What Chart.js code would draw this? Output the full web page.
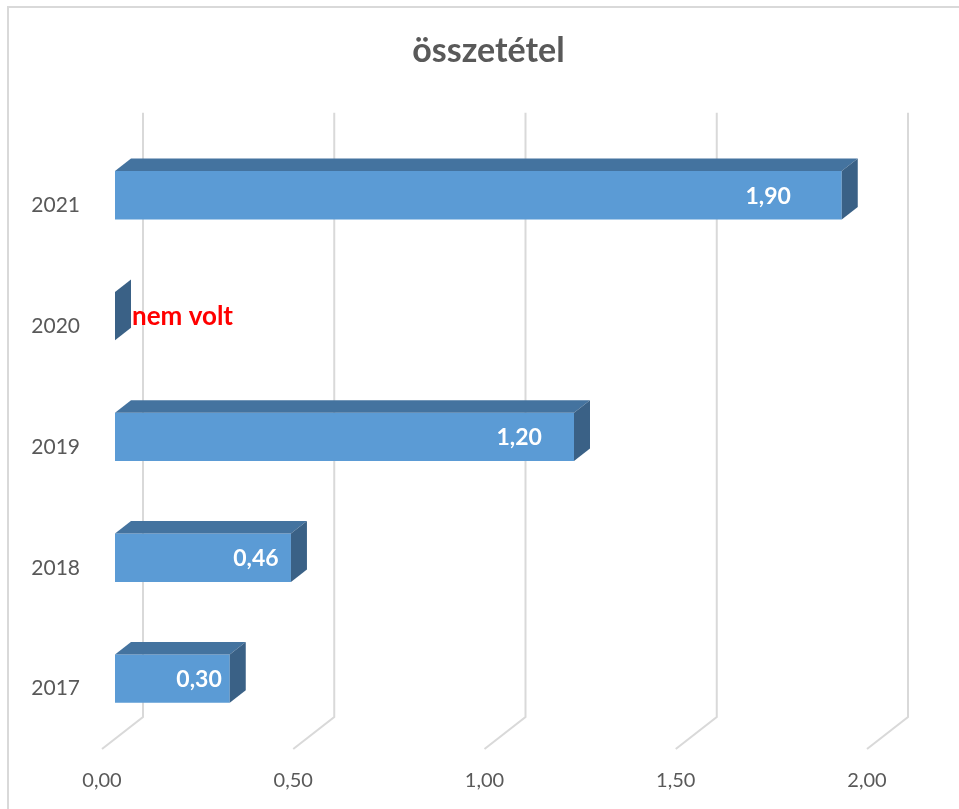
<!DOCTYPE html>
<html lang="hu">
<head>
  <meta charset="UTF-8" />
  <title>összetétel</title>
  <script src="https://cdn.jsdelivr.net/npm/chart.js"></script>
  <style>
    body {
      margin: 0;
      background: #ffffff;
    }
    canvas {
      display: block;
    }
  </style>
</head>
<body>
  <canvas id="chart" width="959" height="809"></canvas>

  <script>
    // adatok (alulról felfelé: 2017 -> 2021)
    const years = ['2017', '2018', '2019', '2020', '2021'];
    const values = [0.30, 0.46, 1.20, 0, 1.90];
    const notes = [null, null, null, 'nem volt', null];
    const xTicks = [0, 0.5, 1, 1.5, 2];

    const fmt = v => v.toFixed(2).replace('.', ',');

    // 3D eltolások
    const DEPTH_DX = 16, DEPTH_DY = -12.5;   // oszlop mélysége
    const BACK_DX = 28, BACK_DY = -22;       // hátsó fal
    const FLOOR_DX = -13, FLOOR_DY = 10;     // padló eleje

    const frame = {
      id: 'frame',
      beforeDraw(chart) {
        const ctx = chart.ctx;
        ctx.save();
        ctx.fillStyle = '#ffffff';
        ctx.fillRect(0, 0, chart.width, chart.height);
        ctx.strokeStyle = '#D9D9D9';
        ctx.lineWidth = 2;
        ctx.beginPath();
        ctx.moveTo(8, chart.height);
        ctx.lineTo(8, 7);
        ctx.lineTo(chart.width, 7);
        ctx.stroke();
        ctx.restore();
      }
    };

    // rácsvonalak a hátsó falon + a padlón
    const grid3d = {
      id: 'grid3d',
      beforeDatasetsDraw(chart) {
        const ctx = chart.ctx, xs = chart.scales.x, area = chart.chartArea;
        ctx.save();
        ctx.strokeStyle = '#D9D9D9';
        ctx.lineWidth = 2;
        xs.ticks.forEach(t => {
          const px = xs.getPixelForValue(t.value);
          ctx.beginPath();
          ctx.moveTo(px + BACK_DX, area.top + BACK_DY);
          ctx.lineTo(px + BACK_DX, area.bottom + BACK_DY);
          ctx.lineTo(px + FLOOR_DX, area.bottom + FLOOR_DY);
          ctx.stroke();
        });
        ctx.restore();
      }
    };

    // oszlopok teteje, oldala és feliratok
    const bars3d = {
      id: 'bars3d',
      afterDatasetsDraw(chart) {
        const ctx = chart.ctx;
        const meta = chart.getDatasetMeta(0);
        ctx.save();
        meta.data.forEach((el, i) => {
          const p = el.getProps(['x', 'y', 'base', 'height'], true);
          const top = p.y - p.height / 2, bottom = p.y + p.height / 2;

          if (p.x > p.base) {
            ctx.fillStyle = '#44739F';
            ctx.beginPath();
            ctx.moveTo(p.base, top);
            ctx.lineTo(p.base + DEPTH_DX, top + DEPTH_DY);
            ctx.lineTo(p.x + DEPTH_DX, top + DEPTH_DY);
            ctx.lineTo(p.x, top);
            ctx.closePath();
            ctx.fill();
          }
          ctx.fillStyle = '#3A6186';
          ctx.beginPath();
          ctx.moveTo(p.x, top);
          ctx.lineTo(p.x + DEPTH_DX, top + DEPTH_DY);
          ctx.lineTo(p.x + DEPTH_DX, bottom + DEPTH_DY);
          ctx.lineTo(p.x, bottom);
          ctx.closePath();
          ctx.fill();

          ctx.textBaseline = 'middle';
          if (notes[i]) {
            ctx.fillStyle = '#FF0000';
            ctx.font = 'bold 26px Lato';
            ctx.textAlign = 'left';
            ctx.fillText(notes[i], p.x + DEPTH_DX + 1, p.y + 1);
          } else {
            ctx.fillStyle = '#FFFFFF';
            ctx.font = 'bold 23px Lato';
            ctx.textAlign = 'right';
            ctx.fillText(fmt(values[i]), p.x - 0.07 * (p.x - p.base), p.y + 1);
          }
        });
        ctx.restore();
      }
    };

    new Chart(document.getElementById('chart'), {
      type: 'bar',
      data: {
        labels: years,
        datasets: [{
          data: values,
          backgroundColor: '#5B9BD5',
          borderWidth: 0,
          barPercentage: 0.8,
          categoryPercentage: 0.5
        }]
      },
      options: {
        indexAxis: 'y',
        responsive: false,
        animation: false,
        layout: { padding: { top: 0, right: 0, bottom: 0, left: 18 } },
        scales: {
          x: {
            min: 0,
            max: 2,
            afterBuildTicks: s => { s.ticks = xTicks.map(v => ({ value: v })); },
            afterFit: s => { s.height = 70; },
            grid: { display: false, drawTicks: false },
            border: { display: false },
            ticks: {
              callback: v => fmt(v),
              color: '#595959',
              font: { family: 'Lato', size: 20 },
              padding: 30,
              labelOffset: FLOOR_DX
            }
          },
          y: {
            reverse: true,
            afterFit: s => { s.width = 97; },
            grid: { display: false, drawTicks: false },
            border: { display: false },
            ticks: {
              color: '#595959',
              font: { family: 'Lato', size: 21 },
              padding: 35,
              labelOffset: FLOOR_DY
            }
          },
          // üres hely a jobb oldalon (a cím a teljes szélességre középre kerül)
          spacer: {
            type: 'linear',
            position: 'right',
            afterFit: s => { s.width = 79; },
            grid: { display: false, drawTicks: false },
            border: { display: false },
            ticks: { display: false }
          }
        },
        plugins: {
          legend: { display: false },
          tooltip: { enabled: false },
          title: {
            display: true,
            text: 'összetétel',
            color: '#595959',
            font: { family: 'Lato', size: 34, weight: 'bold' },
            padding: { top: 31, bottom: 63 }
          }
        }
      },
      plugins: [frame, grid3d, bars3d]
    });
  </script>
</body>
</html>
